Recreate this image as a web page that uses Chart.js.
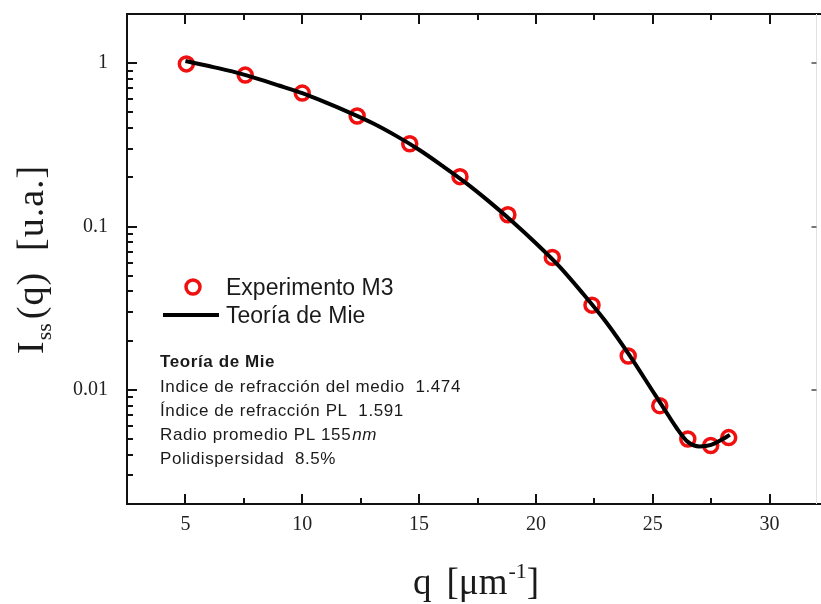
<!DOCTYPE html>
<html>
<head>
<meta charset="utf-8">
<script src="https://cdn.jsdelivr.net/npm/chart.js@4.4.1/dist/chart.umd.min.js"></script>
<style>
    html, body { margin: 0; padding: 0; background: #fff; }
</style>
</head>
<body>
<canvas id="myChart" width="821" height="604"></canvas>
<script>
const ctx = document.getElementById('myChart');

// Experimental points (Experimento M3)
const qExp = [5.04, 7.56, 10.0, 12.35, 14.6, 16.75, 18.8, 20.7, 22.4, 23.95, 25.3, 26.5, 27.48, 28.25];
const iExp = [0.99, 0.845, 0.656, 0.475, 0.321, 0.202, 0.118, 0.0647, 0.033, 0.0161, 0.0080, 0.0050, 0.00456, 0.0051];

// Mie theory curve
const qMie = [5, 6, 7, 8, 9, 10, 11, 12, 13, 14, 15, 16, 17, 18, 19, 20, 21, 22, 23, 24, 25, 25.5, 26, 26.5, 27, 27.5, 28, 28.3];
const iMie = [1.03, 0.96, 0.89, 0.81, 0.73, 0.655, 0.575, 0.50, 0.43, 0.36, 0.295, 0.235, 0.185, 0.142, 0.107, 0.079, 0.057, 0.039, 0.026, 0.0163, 0.0098, 0.0076, 0.0059, 0.0048, 0.0045, 0.0046, 0.0050, 0.0053];

// Tick labels
const xMajorTicks = [5, 10, 15, 20, 25, 30];
const yMajorTicks = [1, 0.1, 0.01];
const yTickLabels = ['1', '0.1', '0.01'];

const legendLabels = ['Experimento M3', 'Teoría de Mie'];
const infoLines = [
    'Indice de refracción del medio  1.474',
    'Índice de refracción PL  1.591',
    'Radio promedio PL 155',
    'Polidispersidad  8.5%'
];

const red = '#f01010';
const ink = '#1a1a1a';

function isPow10(v) {
    const l = Math.log10(v);
    return Math.abs(l - Math.round(l)) < 1e-6;
}

function isIntMantissa(v) {
    const m = v / Math.pow(10, Math.floor(Math.log10(v) + 1e-9));
    return Math.abs(m - Math.round(m)) < 1e-6;
}

// frame, inward ticks, axis titles, legend and text box
const decorations = {
    id: 'decorations',
    afterDraw(chart) {
        const {ctx, chartArea: {left, right, top, bottom}, scales: {x, y}} = chart;
        ctx.save();

        // frame
        ctx.strokeStyle = '#111';
        ctx.lineWidth = 2;
        ctx.beginPath();
        ctx.moveTo(left, top); ctx.lineTo(chart.width, top);
        ctx.moveTo(left, top - 1); ctx.lineTo(left, bottom + 1);
        ctx.moveTo(left, bottom); ctx.lineTo(chart.width, bottom);
        ctx.stroke();

        const rx = right - 4.5;
        ctx.strokeStyle = '#e2e2e2';
        ctx.lineWidth = 1;
        ctx.beginPath();
        ctx.moveTo(rx, top); ctx.lineTo(rx, bottom);
        ctx.stroke();

        // x ticks (bottom and top, pointing inward)
        ctx.strokeStyle = '#111';
        ctx.lineWidth = 2;
        ctx.beginPath();
        x.ticks.forEach(t => {
            if (t.value <= x.min || t.value >= x.max) return;
            const px = Math.round(x.getPixelForValue(t.value));
            const len = xMajorTicks.includes(t.value) ? 10 : 6;
            ctx.moveTo(px, bottom); ctx.lineTo(px, bottom - len);
            ctx.moveTo(px, top); ctx.lineTo(px, top + len);
        });
        // y ticks (left)
        y.ticks.forEach(t => {
            if (t.value <= y.min || t.value >= y.max) return;
            if (!isIntMantissa(t.value)) return;
            const py = Math.round(y.getPixelForValue(t.value));
            const len = isPow10(t.value) ? 10 : 6;
            ctx.moveTo(left, py); ctx.lineTo(left + len, py);
        });
        ctx.stroke();

        // faint right-side ticks
        ctx.strokeStyle = '#777';
        ctx.beginPath();
        yMajorTicks.forEach(v => {
            const py = Math.round(y.getPixelForValue(v));
            ctx.moveTo(rx, py); ctx.lineTo(rx - 5, py);
        });
        ctx.stroke();

        // y title
        ctx.fillStyle = ink;
        ctx.textBaseline = 'alphabetic';
        ctx.textAlign = 'left';
        ctx.save();
        ctx.translate(43, 354);
        ctx.rotate(-Math.PI / 2);
        ctx.font = '38px "Liberation Serif"';
        ctx.fillText('I', 0, 0);
        let w = ctx.measureText('I').width + 1;
        ctx.font = '22px "Liberation Serif"';
        ctx.fillText('ss', w, 8);
        w += ctx.measureText('ss').width + 4;
        ctx.font = '38px "Liberation Serif"';
        ctx.letterSpacing = '1px';
        ctx.fillText('(q)  [u.a.]', w, 0);
        ctx.restore();

        // x title
        ctx.save();
        ctx.font = '37px "Liberation Serif"';
        let xx = 413;
        ctx.fillText('q', xx, 594);
        xx += ctx.measureText('q').width + 15;
        ctx.fillText('[\u03bcm', xx, 594);
        xx += ctx.measureText('[\u03bcm').width + 1;
        ctx.font = '22px "Liberation Serif"';
        ctx.fillText('-1', xx, 578);
        xx += ctx.measureText('-1').width;
        ctx.font = '37px "Liberation Serif"';
        ctx.fillText(']', xx, 594);
        ctx.restore();

        // legend
        ctx.save();
        ctx.strokeStyle = red;
        ctx.lineWidth = 3.5;
        ctx.beginPath();
        ctx.arc(193, 287, 7, 0, Math.PI * 2);
        ctx.stroke();
        ctx.strokeStyle = '#000';
        ctx.lineWidth = 4;
        ctx.beginPath();
        ctx.moveTo(163, 315); ctx.lineTo(219, 315);
        ctx.stroke();
        ctx.font = '23px "Liberation Sans"';
        ctx.fillStyle = ink;
        ctx.fillText(legendLabels[0], 226, 295);
        ctx.fillText(legendLabels[1], 226, 323);
        ctx.restore();

        // info box
        ctx.save();
        ctx.fillStyle = ink;
        ctx.letterSpacing = '0.6px';
        ctx.font = 'bold 17px "Liberation Sans"';
        ctx.fillText('Teoría de Mie', 160, 367);
        ctx.font = '17px "Liberation Sans"';
        const base = [392, 416, 440, 464];
        infoLines.forEach((s, i) => ctx.fillText(s, 160, base[i]));
        const rw = ctx.measureText(infoLines[2]).width;
        ctx.font = 'italic 17px "Liberation Sans"';
        ctx.fillText('nm', 160 + rw + 1, base[2]);
        ctx.restore();

        ctx.restore();
    }
};

const tickFont = {family: 'Liberation Serif', size: 20};

const options = {
    responsive: false,
    animation: false,
    layout: {autoPadding: false, padding: {left: 0, top: 14, right: 0, bottom: 0}},
    plugins: {
        legend: {display: false},
        tooltip: {enabled: false}
    },
    scales: {
        x: {
            type: 'linear',
            min: 2.5,
            max: 32.2,
            grid: {display: false},
            border: {display: false},
            ticks: {
                stepSize: 2.5,
                includeBounds: false,
                autoSkip: false,
                maxRotation: 0,
                padding: 1,
                color: '#222',
                font: tickFont,
                callback: v => xMajorTicks.includes(v) ? String(v) : ''
            },
            afterFit: s => {
                s.height = 100;
                s.paddingLeft = 0;
                s.paddingRight = 0;
            }
        },
        y: {
            type: 'logarithmic',
            min: 0.002,
            max: 2,
            grid: {display: false},
            border: {display: false},
            ticks: {
                autoSkip: false,
                padding: 11,
                color: '#222',
                font: tickFont,
                callback: v => {
                    const i = yMajorTicks.findIndex(t => Math.abs(v / t - 1) < 1e-6);
                    return i >= 0 ? yTickLabels[i] : '';
                }
            },
            afterFit: s => {
                s.width = 127;
                s.paddingTop = 0;
                s.paddingBottom = 0;
            }
        }
    }
};

const chart = new Chart(ctx, {
    type: 'scatter',
    data: {
        datasets: [
            {
                label: legendLabels[1],
                data: qMie.map((q, i) => ({x: q, y: iMie[i]})),
                showLine: true,
                borderColor: '#000',
                borderWidth: 4,
                pointRadius: 0,
                cubicInterpolationMode: 'monotone',
                order: 0
            },
            {
                label: legendLabels[0],
                data: qExp.map((q, i) => ({x: q, y: iExp[i]})),
                pointStyle: 'circle',
                pointRadius: 7,
                borderWidth: 3.5,
                borderColor: red,
                backgroundColor: 'rgba(0,0,0,0)',
                order: 1
            }
        ]
    },
    options: options,
    plugins: [decorations]
});
</script>
</body>
</html>
